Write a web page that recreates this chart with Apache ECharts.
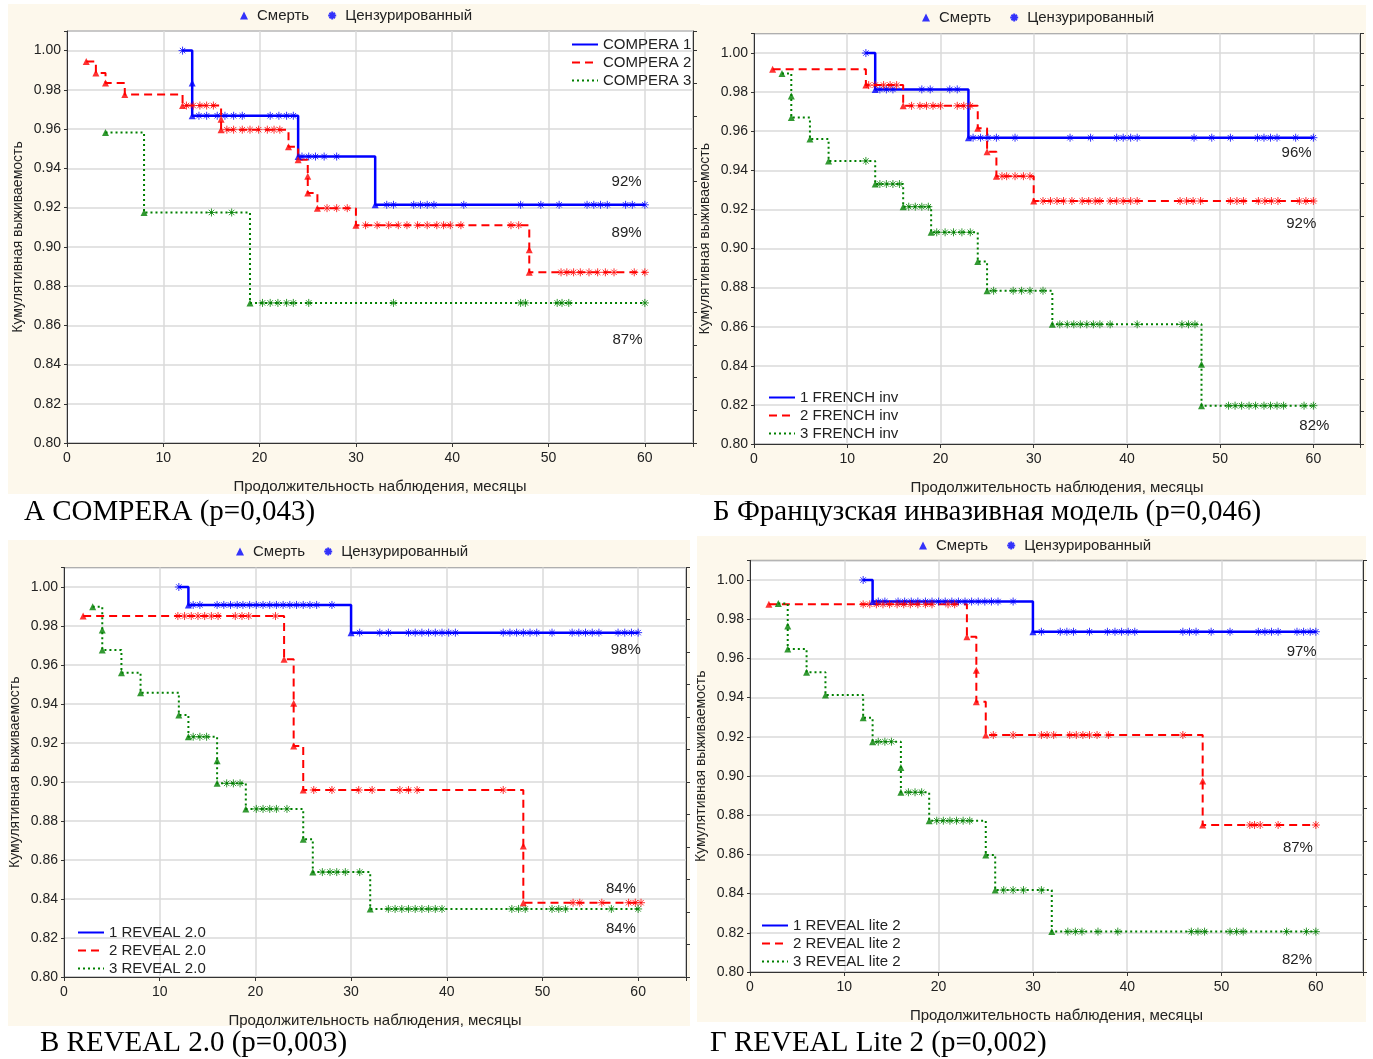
<!DOCTYPE html>
<html>
<head>
<meta charset="utf-8">
<script src="https://cdn.jsdelivr.net/npm/echarts@6/dist/echarts.min.js"></script>
<style>
  html, body { margin: 0; background: #fff; }
  #chart { width: 1373px; height: 1059px; }
</style>
</head>
<body>
<div id="chart"></div>
<script>
// ---- data: deaths [month, survival], censored = months ----
const compera1Deaths = [[13, 0.9835], [13, 0.9668], [24, 0.946], [32, 0.9214]];
const compera1Censored = [12, 13.7, 14.5, 15.6, 16.4, 17.3, 18.2, 21.1, 22.0, 22.8, 23.5, 24.4, 25.1, 25.8, 26.7, 28.0,
  33.2, 33.9, 36.0, 36.7, 37.4, 38.1, 41.2, 47.1, 49.2, 51.1, 54.0, 54.7, 55.4, 56.1, 58.0, 58.7, 60];
const compera2Deaths = [[2, 0.9945], [3, 0.9886], [4, 0.9835], [6, 0.9776], [12, 0.972], [16, 0.965], [16, 0.9597],
  [23, 0.951], [24, 0.9444], [25, 0.936], [25, 0.9274], [26, 0.9197], [30, 0.911], [48, 0.8985], [48, 0.887]];
const compera2Censored = [12.4, 13.1, 13.8, 14.5, 15.2, 16.6, 17.3, 18.2, 19.0, 19.9, 20.8, 21.5, 22.1, 27.0, 28.0, 29.1,
  31.0, 32.2, 33.4, 34.4, 35.3, 36.4, 37.4, 38.4, 39.1, 39.8, 40.9, 46.1, 46.9,
  51.3, 51.9, 52.6, 53.3, 54.2, 55.1, 55.9, 56.8, 58.9, 60];
const compera3Deaths = [[4, 0.9583], [8, 0.9175], [19, 0.8714]];
const compera3Censored = [15.0, 17.1, 20.3, 21.1, 21.9, 22.8, 23.5, 25.1, 33.9, 47.1, 47.6, 50.9, 51.4, 52.1, 60];

const french1Deaths = [[13, 0.9814], [23, 0.9567]];
const french1Censored = [12, 13.5, 14.2, 14.9, 18.0, 18.9, 21.0, 21.8, 23.5, 24.3, 25.1, 26.0, 28.0, 33.9, 36.1,
  38.9, 39.6, 40.4, 41.1, 47.2, 49.1, 51.1, 54.0, 54.7, 55.4, 56.1, 58.1, 60];
const french2Deaths = [[2, 0.9917], [12, 0.9836], [16, 0.973], [24, 0.9615], [25, 0.9495], [26, 0.937], [30, 0.9243]];
const french2Censored = [12.3, 13.0, 13.9, 14.6, 15.3, 16.9, 17.8, 18.5, 19.2, 20.0, 21.8, 22.5, 23.2, 26.6, 27.1,
  28.0, 28.9, 29.6, 31.0, 31.8, 32.5, 33.2, 34.1, 35.2, 35.9, 36.6, 37.1, 38.2, 38.9, 39.6, 40.4, 41.1,
  45.7, 46.4, 47.1, 47.9, 51.1, 51.8, 52.5, 54.1, 54.8, 55.5, 56.2, 58.5, 59.2, 60];
const french3Deaths = [[3, 0.9896], [4, 0.978], [4, 0.967], [6, 0.956], [8, 0.9448], [13, 0.933], [16, 0.9214],
  [19, 0.9083], [24, 0.8933], [25, 0.8784], [32, 0.8612], [48, 0.8408], [48, 0.8196]];
const french3Censored = [12.0, 13.5, 14.2, 14.9, 15.6, 16.6, 17.3, 18.0, 18.7, 19.6, 20.5, 21.4, 22.3, 23.2, 25.7,
  27.8, 28.7, 29.6, 31.0, 32.8, 33.6, 34.3, 35.0, 35.7, 36.4, 37.1, 38.2, 41.1, 45.9, 46.6, 47.3,
  50.9, 51.6, 52.3, 53.1, 53.8, 54.7, 55.4, 56.1, 56.8, 59.0, 60];

const reveal1Deaths = [[13, 0.9908], [30, 0.9766]];
const reveal1Censored = [12, 13.5, 14.2, 16.0, 16.7, 17.4, 18.1, 18.7, 19.4, 20.1, 20.8, 21.5, 22.2, 22.9, 23.6,
  24.3, 25.0, 25.7, 26.4, 28.0, 30.9, 33.0, 33.9, 36.0, 36.7, 37.4, 38.1, 38.8, 39.5, 40.2, 40.9,
  45.9, 46.6, 47.3, 48.0, 48.7, 49.4, 51.0, 53.1, 53.8, 54.5, 55.2, 55.9, 57.9, 58.6, 59.3, 60];
const reveal2Deaths = [[2, 0.9851], [23, 0.9629], [24, 0.9404], [24, 0.9185], [25, 0.8959], [48, 0.8672], [48, 0.8381]];
const reveal2Censored = [11.9, 12.6, 13.3, 14.0, 14.7, 15.4, 16.1, 17.9, 18.6, 19.3, 22.1, 26.1, 28.0, 30.8, 32.2,
  35.1, 36.0, 36.9, 45.9, 53.2, 53.9, 56.2, 59.0, 59.7, 60.3];
const reveal3Deaths = [[3, 0.9899], [4, 0.978], [4, 0.9677], [6, 0.956], [8, 0.9458], [12, 0.9344], [13, 0.9232],
  [16, 0.9109], [16, 0.8993], [19, 0.8862], [25, 0.8706], [26, 0.8538], [32, 0.8349]];
const reveal3Censored = [13.5, 14.2, 14.9, 17.0, 17.7, 18.4, 20.1, 20.8, 21.5, 22.2, 23.3, 27.0, 27.8, 28.5, 29.4,
  30.9, 33.9, 34.6, 35.3, 36.0, 36.7, 37.4, 38.1, 38.8, 39.5, 46.8, 47.5, 48.2, 51.0, 51.7, 52.4, 57.2, 60];

const lite1Deaths = [[13, 0.989], [30, 0.9736]];
const lite1Censored = [12, 13.6, 14.3, 15.7, 16.4, 17.1, 17.8, 18.6, 19.3, 20.0, 20.7, 21.4, 22.1, 22.8, 23.5, 24.2,
  24.9, 25.6, 26.3, 27.9, 30.9, 32.9, 33.6, 34.3, 36.0, 37.9, 38.7, 39.4, 40.1, 40.8, 45.9, 46.6, 47.3,
  48.9, 50.9, 53.9, 54.6, 55.3, 56.0, 58.0, 58.7, 59.4, 60];
const lite2Deaths = [[2, 0.9876], [23, 0.9711], [24, 0.954], [24, 0.9379], [25, 0.9209], [48, 0.8975], [48, 0.875]];
const lite2Censored = [12.0, 12.7, 13.4, 14.1, 14.8, 15.6, 16.3, 17.0, 17.8, 18.6, 19.3, 21.0, 21.7, 25.8, 27.9,
  30.9, 31.5, 32.2, 33.9, 34.6, 35.3, 36.0, 36.8, 38.0, 45.9, 53.0, 53.5, 54.1, 56.0, 60];
const lite3Deaths = [[3, 0.988], [4, 0.9765], [4, 0.9648], [6, 0.9529], [8, 0.9413], [12, 0.9297], [13, 0.9175],
  [16, 0.9044], [16, 0.8917], [19, 0.8772], [25, 0.8597], [26, 0.8418], [32, 0.8206]];
const lite3Censored = [13.6, 14.3, 15.0, 16.8, 17.5, 18.2, 19.8, 20.5, 21.2, 21.9, 22.6, 23.3, 26.9, 27.9, 29.0,
  30.9, 33.7, 34.5, 35.2, 36.9, 39.0, 46.8, 47.5, 48.2, 50.9, 51.6, 52.3, 56.9, 59.0, 60];

const comperaNames = ['COMPERA 1', 'COMPERA 2', 'COMPERA 3'];
const frenchNames = ['1 FRENCH inv', '2 FRENCH inv', '3 FRENCH inv'];
const revealNames = ['1 REVEAL 2.0', '2 REVEAL 2.0', '3 REVEAL 2.0'];
const liteNames = ['1 REVEAL lite 2', '2 REVEAL lite 2', '3 REVEAL lite 2'];

const comperaPct = ['92%', '89%', '87%'];
const frenchPct = ['96%', '92%', '82%'];
const revealPct = ['98%', '84%', '84%'];
const litePct = ['97%', '87%', '82%'];

const panelTitles = ['А COMPERA (p=0,043)', 'Б Французская инвазивная модель (p=0,046)',
  'В REVEAL 2.0 (p=0,003)', 'Г REVEAL Lite 2 (p=0,002)'];
const xTitle = 'Продолжительность наблюдения, месяцы';
const yTitle = 'Кумулятивная выживаемость';
const markerNames = ['Смерть', 'Цензурированный'];

// ---- layout ----
const panels = [
  { grid: { left: 67, top: 31, width: 626, height: 412 }, bg: [8, 4, 692, 490],
    deaths: [compera1Deaths, compera2Deaths, compera3Deaths],
    censored: [compera1Censored, compera2Censored, compera3Censored],
    names: comperaNames, pct: comperaPct, pctAt: [[58.1, 0.9332], [58.1, 0.9071], [58.2, 0.8526]],
    topLegend: { left: 235, top: 3 }, legend: { left: 566, top: 32 }, title: [24, 512] },
  { grid: { left: 754, top: 33.5, width: 606, height: 410.5 }, bg: [700, 5, 666, 490],
    deaths: [french1Deaths, french2Deaths, french3Deaths],
    censored: [french1Censored, french2Censored, french3Censored],
    names: frenchNames, pct: frenchPct, pctAt: [[58.2, 0.9488], [58.7, 0.9125], [60.1, 0.8092]],
    topLegend: { left: 917, top: 5 }, legend: { left: 763, top: 385 }, title: [713, 512] },
  { grid: { left: 64, top: 567.5, width: 622, height: 409.5 }, bg: [8, 540, 682, 486],
    deaths: [reveal1Deaths, reveal2Deaths, reveal3Deaths],
    censored: [reveal1Censored, reveal2Censored, reveal3Censored],
    names: revealNames, pct: revealPct, pctAt: [[58.7, 0.9677], [58.2, 0.8451], [58.2, 0.8246]],
    topLegend: { left: 231, top: 539 }, legend: { left: 72, top: 920 }, title: [40, 1043] },
  { grid: { left: 750, top: 560.4, width: 613, height: 411.6 }, bg: [697, 536, 669, 486],
    deaths: [lite1Deaths, lite2Deaths, lite3Deaths],
    censored: [lite1Censored, lite2Censored, lite3Censored],
    names: liteNames, pct: litePct, pctAt: [[58.5, 0.9633], [58.1, 0.8633], [58.0, 0.8061]],
    topLegend: { left: 914, top: 533 }, legend: { left: 756, top: 913 }, title: [710, 1043] }
];

const colors = ['#0000ff', '#ff0000', '#008000'];
const lineStyles = [
  { type: 'solid', width: 2.5 },
  { type: [8, 5], width: 2 },
  { type: [2, 3], width: 2 }
];
const asterisk = 'path://M5,0L5,10M0,5L10,5M1.6,1.6L8.4,8.4M1.6,8.4L8.4,1.6';
const font = 'Liberation Sans, Arial, sans-serif';

// survival at time t from the list of deaths
function survivalAt(deaths, t) {
  let s = 1;
  deaths.forEach(d => { if (d[0] <= t) s = d[1]; });
  return s;
}

// Kaplan-Meier path: start at first event, step down at each death, end at last follow-up
function kmPath(deaths, censored) {
  const firstDeath = deaths[0][0];
  const firstCens = censored[0];
  const lastT = Math.max(censored[censored.length - 1], deaths[deaths.length - 1][0]);
  const path = [];
  if (firstCens < firstDeath) path.push([firstCens, 1]);
  deaths.forEach(d => path.push(d));
  path.push([lastT, deaths[deaths.length - 1][1]]);
  return path;
}

const chart = echarts.init(document.getElementById('chart'));

const grids = [], xAxes = [], yAxes = [], rightAxes = [], series = [], legends = [], graphics = [];

panels.forEach((p, i) => {
  grids.push(Object.assign({ show: true, backgroundColor: '#fff', borderColor: '#333', borderWidth: 1 }, p.grid));
  xAxes.push({
    type: 'value', gridIndex: i, min: 0, max: 65, interval: 10,
    name: xTitle, nameLocation: 'middle', nameGap: 36,
    nameTextStyle: { fontSize: 15, color: '#222', fontFamily: font },
    axisLine: { lineStyle: { color: '#333' } },
    axisTick: { show: true, length: 4, lineStyle: { color: '#333' } },
    axisLabel: { fontSize: 14, color: '#222', margin: 8, fontFamily: font,
      formatter: v => (v % 10 === 0 ? String(v) : '') },
    splitLine: { show: true, lineStyle: { color: '#dadada', width: 1.5 } }
  });
  yAxes.push({
    type: 'value', gridIndex: i, min: 0.8, max: 1.01, interval: 0.02,
    name: yTitle, nameLocation: 'middle', nameGap: 42,
    nameTextStyle: { fontSize: 14, color: '#222', fontFamily: font },
    axisLine: { lineStyle: { color: '#333' } },
    axisTick: { show: true, length: 3, lineStyle: { color: '#333' } },
    axisLabel: { fontSize: 14, color: '#222', margin: 6, fontFamily: font,
      formatter: v => (Math.abs(v * 50 - Math.round(v * 50)) < 1e-6 ? v.toFixed(2) : '') },
    splitLine: { show: true, lineStyle: { color: '#dadada', width: 1.5 } }
  });
  // right-hand frame ticks (12 divisions of 0.80..1.00)
  rightAxes.push({
    type: 'value', gridIndex: i, position: 'right', min: 0.8, max: 1.01, interval: 0.2 / 12,
    axisLine: { show: true, lineStyle: { color: '#333' } },
    axisTick: { show: true, length: 4, lineStyle: { color: '#333' } },
    axisLabel: { show: false }, splitLine: { show: false }
  });

  p.deaths.forEach((deaths, c) => {
    const cens = p.censored[c];
    series.push({
      type: 'line', name: p.names[c], xAxisIndex: i, yAxisIndex: i,
      data: kmPath(deaths, cens), step: 'end', symbol: 'none', silent: true,
      color: colors[c], lineStyle: Object.assign({ color: colors[c] }, lineStyles[c]),
      z: 2,
      markPoint: {
        symbol: 'circle', symbolSize: 0, silent: true,
        label: { show: true, position: 'inside', formatter: '{b}', fontSize: 15, color: '#222', fontFamily: font },
        data: [{ name: p.pct[c], coord: p.pctAt[c] }]
      }
    });
    series.push({
      type: 'scatter', name: markerNames[0], xAxisIndex: i, yAxisIndex: i,
      data: deaths, symbol: 'triangle', symbolSize: 7, silent: true,
      itemStyle: { color: colors[c] }, z: 4
    });
    series.push({
      type: 'scatter', name: markerNames[1], xAxisIndex: i, yAxisIndex: i,
      data: cens.map(t => [t, survivalAt(deaths, t)]), symbol: asterisk, symbolSize: 8, silent: true,
      itemStyle: { color: 'rgba(0,0,0,0)', borderColor: colors[c], borderWidth: 1 }, z: 3
    });
  });

  legends.push({
    data: markerNames, left: p.topLegend.left, top: p.topLegend.top, selectedMode: false,
    itemWidth: 8, itemHeight: 8, itemGap: 18,
    textStyle: { fontSize: 15, color: '#222', fontFamily: font, padding: [0, 0, 0, 4] }
  });
  legends.push({
    data: p.names, left: p.legend.left, top: p.legend.top, orient: 'vertical', selectedMode: false,
    itemWidth: 26, itemHeight: 14, itemGap: 3,
    itemStyle: { opacity: 0 },
    textStyle: { fontSize: 15, color: '#222', fontFamily: font }
  });

  graphics.push({
    type: 'rect', z: -10, silent: true,
    shape: { x: p.bg[0], y: p.bg[1], width: p.bg[2], height: p.bg[3] },
    style: { fill: '#fdf8ec' }
  });
  graphics.push({
    type: 'text', x: p.title[0], y: p.title[1], silent: true,
    style: { text: panelTitles[i], font: '29px "Liberation Serif", "Times New Roman", serif',
      fill: '#000', verticalAlign: 'middle' }
  });
});

chart.setOption({
  animation: false,
  textStyle: { fontFamily: font },
  grid: grids,
  xAxis: xAxes,
  yAxis: yAxes.concat(rightAxes),
  legend: legends,
  graphic: { elements: graphics },
  series: series
});

window.addEventListener('resize', () => chart.resize());
</script>
</body>
</html>
